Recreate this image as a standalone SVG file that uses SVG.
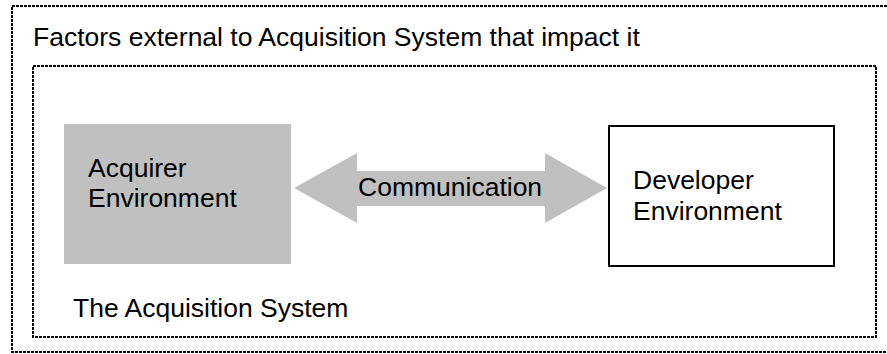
<svg xmlns="http://www.w3.org/2000/svg" width="887" height="354" viewBox="0 0 887 354">
<style>
.t{font-family:"Liberation Sans",Arial,sans-serif;font-size:26.5px;fill:#000}
.dot{fill:none;stroke:#000;stroke-width:2;stroke-dasharray:3 1}
</style>
<rect width="887" height="354" fill="#fff"/>
<g id="external">
<rect class="dot" x="12" y="6" width="890" height="346"/>
<text class="t" x="33" y="46">Factors external to Acquisition System that impact it</text>
</g>
<g id="system">
<rect class="dot" x="33" y="66" width="843" height="271"/>
<text class="t" x="73" y="317">The Acquisition System</text>
</g>
<g id="acquirer">
<rect x="64" y="124" width="227" height="140" fill="#c0c0c0"/>
<text class="t" x="88" y="177">Acquirer</text>
<text class="t" x="88" y="207">Environment</text>
</g>
<g id="developer">
<rect x="609" y="126" width="225" height="140" fill="#fff" stroke="#000" stroke-width="2"/>
<text class="t" x="633" y="189">Developer</text>
<text class="t" x="633" y="220">Environment</text>
</g>
<g id="connectors">
<polygon points="294,188 357,153 357,171 545,171 545,153 607,188 545,223 545,206 357,206 357,223" fill="#c0c0c0"/>
<text class="t" x="358" y="196">Communication</text>
</g>
</svg>
